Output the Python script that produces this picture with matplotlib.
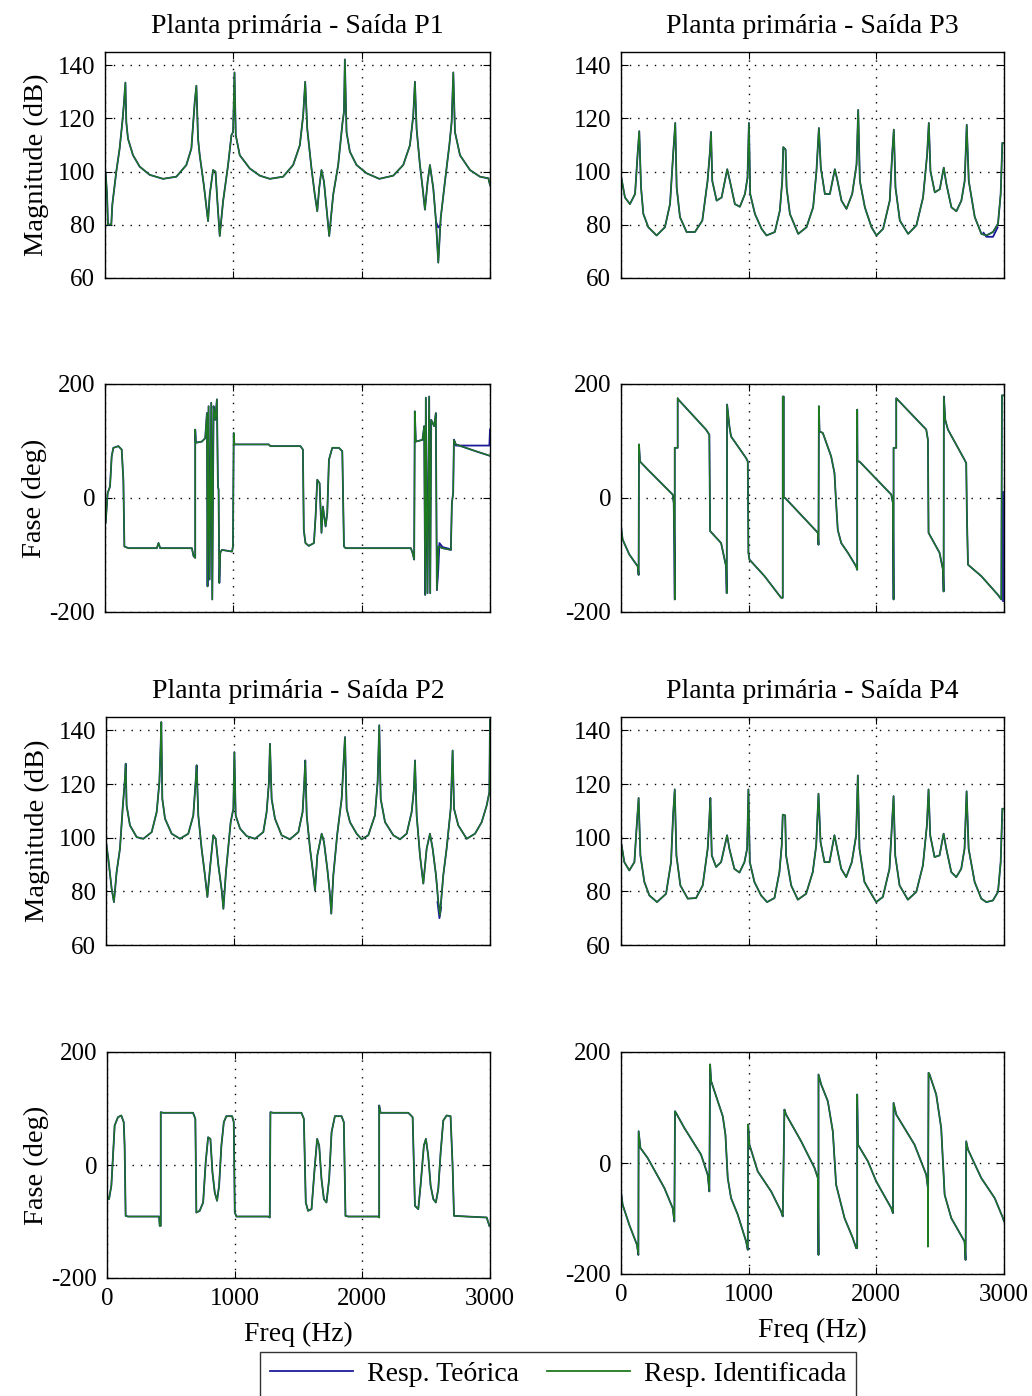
import numpy as np
import matplotlib.pyplot as plt
from matplotlib.lines import Line2D

plt.rcParams['font.family'] = ['Liberation Serif', 'DejaVu Serif']
plt.rcParams['axes.unicode_minus'] = False

# ---------------- data ----------------
freq_ticks = [0, 1000, 2000, 3000]
mag_ticks = [60, 80, 100, 120, 140]
fase_ticks = [-200, 0, 200]
titles = ['Planta primária - Saída P1', 'Planta primária - Saída P3',
          'Planta primária - Saída P2', 'Planta primária - Saída P4']
legend_labels = ['Resp. Teórica', 'Resp. Identificada']

# (freq Hz, magnitude dB) / (freq Hz, phase deg) of the identified response
p1_mag = [(0, 100), (5, 99.4), (16, 91.3), (23, 80.1), (49, 80.1), (57, 87.6), (88, 100), (114, 108.7),
          (135, 118.6), (146, 124.8), (159, 133.5), (166, 118.6), (179, 112.4), (218, 106.2), (270, 101.9),
          (348, 98.8), (452, 97.3), (556, 98.1), (634, 102.5), (673, 108.7), (699, 126.1), (712, 132.3),
          (725, 112.4), (738, 106.2), (770, 95.0), (803, 81.4), (816, 91.3), (842, 100.6), (861, 100.0),
          (874, 90.1), (894, 75.8), (920, 88.8), (959, 102.5), (985, 113.7), (998, 114.9), (1009, 137.3),
          (1019, 113.7), (1050, 106.2), (1128, 101.2), (1206, 98.5), (1284, 97.3), (1388, 98.1), (1466, 102.5),
          (1518, 109.9), (1544, 121.1), (1560, 133.8), (1576, 116.1), (1609, 101.2), (1635, 91.3), (1654, 85.1),
          (1669, 93.8), (1687, 100.6), (1706, 96.3), (1726, 86.3), (1747, 75.8), (1778, 91.3), (1817, 102.5),
          (1851, 118.6), (1862, 122.4), (1869, 142.2), (1882, 114.9), (1908, 107.5), (1960, 102.5),
          (2038, 99.4), (2137, 97.3), (2246, 98.5), (2324, 102.5), (2376, 109.9), (2402, 121.1), (2415, 133.8),
          (2428, 116.1), (2454, 102.5), (2475, 93.8), (2493, 85.7), (2514, 96.3), (2532, 102.5), (2558, 93.8),
          (2579, 81.4), (2597, 65.8), (2616, 82.6), (2649, 96.3), (2683, 109.9), (2701, 118.6), (2714, 137.3),
          (2727, 114.9), (2766, 106.2), (2844, 100.6), (2922, 98.1), (2987, 97.5), (3000, 95.0)]

p1_fase = [(0, -44), (5, -44), (21, 9), (39, 20), (52, 73), (65, 88), (104, 91), (130, 85), (143, 32),
           (151, -85), (182, -88), (404, -88), (417, -79), (430, -88), (677, -88), (690, -102), (703, -105),
           (703, 120), (708, 97), (755, 99), (781, 105), (794, 149), (799, -155), (807, 161), (815, -143),
           (828, 167), (836, -178), (846, 161), (859, 137), (872, 173), (880, 20), (885, 15), (891, -149),
           (898, -96), (911, -91), (990, -94), (997, -85), (1003, 114), (1008, 94), (1276, 94), (1289, 91),
           (1523, 91), (1542, 85), (1549, -56), (1562, -79), (1588, -84), (1628, -79), (1641, -32), (1654, 32),
           (1672, 26), (1680, -20), (1687, -61), (1698, -15), (1719, -50), (1732, -26), (1745, 67), (1771, 88),
           (1823, 88), (1849, 82), (1862, -85), (1875, -88), (2383, -88), (2396, -96), (2409, -108),
           (2414, 152), (2422, 99), (2474, 102), (2487, 126), (2495, -170), (2500, 176), (2513, -167),
           (2526, 178), (2534, -167), (2542, 137), (2565, 126), (2578, 149), (2586, -161), (2599, -85),
           (2630, -88), (2695, -91), (2703, -9), (2713, 9), (2719, 102), (2734, 94), (2812, 88), (2890, 82),
           (3000, 74)]

p3_mag = [(0, 98), (5, 97.1), (31, 90.3), (70, 87.8), (110, 91.6), (130, 106.5), (143, 115.2), (157, 94.0),
          (175, 84.1), (214, 79.1), (279, 76.0), (344, 79.1), (384, 87.8), (410, 107.7), (425, 118.3),
          (436, 94.0), (462, 82.9), (514, 77.3), (579, 77.3), (637, 81.6), (678, 96.5), (697, 107.7),
          (705, 114.9), (715, 96.5), (749, 89.1), (788, 90.3), (832, 100.9), (853, 96.5), (892, 87.8),
          (931, 86.8), (971, 91.6), (991, 97.8), (1002, 118.3), (1012, 91.6), (1049, 84.1), (1101, 78.5),
          (1140, 76.0), (1205, 77.3), (1244, 85.3), (1263, 96.5), (1271, 109.2), (1289, 108.3), (1297, 94.0),
          (1323, 84.1), (1388, 76.6), (1453, 79.1), (1505, 86.6), (1531, 100.2), (1550, 116.4), (1565, 101.5),
          (1597, 91.6), (1636, 91.6), (1675, 100.9), (1696, 96.5), (1727, 89.1), (1766, 86.0), (1811, 91.6),
          (1845, 102.7), (1858, 123.2), (1871, 96.5), (1910, 86.6), (1962, 79.1), (2001, 76.0), (2053, 78.5),
          (2105, 89.1), (2124, 106.5), (2137, 115.8), (2150, 94.0), (2184, 81.6), (2249, 76.6), (2314, 79.8),
          (2366, 90.3), (2398, 106.5), (2411, 118.3), (2424, 100.2), (2458, 92.2), (2497, 93.4), (2528, 101.5),
          (2549, 95.3), (2588, 86.6), (2627, 85.1), (2666, 89.1), (2692, 96.5), (2708, 117.6), (2724, 96.5),
          (2771, 82.9), (2823, 76.6), (2862, 76.0), (2914, 77.3), (2953, 80.4), (2974, 91.6), (2987, 110.8),
          (3000, 110.8)]

p3_fase = [(0, -50), (13, -73), (65, -99), (131, -120), (138, -135), (141, 94), (149, 64), (209, 50), (405, 6),
           (413, -9), (418, -85), (421, -178), (421, 88), (444, 88), (444, 175), (452, 172), (666, 120),
           (692, 111), (698, -58), (784, -79), (823, -120), (828, -167), (831, 164), (849, 126), (862, 108),
           (980, 70), (993, 64), (998, -96), (1006, -108), (1124, -137), (1254, -175), (1267, -175), (1267, 178),
           (1275, 178), (1275, 0), (1286, 0), (1542, -61), (1547, -82), (1550, 161), (1555, 117), (1581, 114),
           (1646, 73), (1672, 44), (1685, -9), (1698, -56), (1725, -79), (1777, -96), (1842, -120), (1850, -126),
           (1850, 155), (1852, 64), (1868, 64), (2117, 6), (2130, -9), (2135, -178), (2135, 88), (2156, 88),
           (2156, 175), (2169, 172), (2391, 120), (2404, 102), (2409, -61), (2495, -96), (2522, -126),
           (2527, -164), (2529, 178), (2540, 137), (2561, 120), (2691, 67), (2704, 61), (2710, -38), (2718, -117),
           (2822, -137), (2953, -170), (2979, -178), (2984, 180), (3000, 180)]

p2_mag = [(0, 98.4), (18, 92.2), (44, 81.0), (62, 76.0), (83, 87.2), (109, 95.9), (130, 110.8), (146, 120.7),
          (154, 127.6), (161, 112.0), (187, 104.6), (240, 100.2), (292, 99.6), (357, 102.1), (396, 109.6),
          (417, 120.7), (427, 134.4), (432, 143.1), (440, 114.5), (461, 107.1), (513, 101.5), (578, 99.6),
          (643, 101.5), (682, 108.3), (700, 120.7), (708, 127.0), (721, 108.3), (747, 95.9), (773, 86.0),
          (792, 77.9), (812, 88.4), (838, 100.9), (857, 99.6), (878, 89.7), (904, 80.4), (917, 73.5),
          (937, 87.2), (974, 105.8), (995, 110.8), (1003, 131.9), (1013, 108.3), (1047, 103.4), (1099, 100.6),
          (1164, 99.6), (1229, 102.1), (1255, 109.6), (1273, 120.7), (1281, 135.0), (1294, 114.5),
          (1320, 107.1), (1372, 100.9), (1437, 99.4), (1503, 102.1), (1536, 109.6), (1549, 120.7),
          (1557, 128.8), (1568, 108.3), (1594, 95.9), (1620, 86.0), (1633, 80.4), (1651, 93.4), (1685, 101.5),
          (1703, 98.4), (1729, 88.4), (1750, 78.5), (1760, 71.7), (1776, 86.0), (1807, 101.5), (1841, 114.5),
          (1867, 137.5), (1880, 110.8), (1906, 105.8), (1958, 101.5), (1997, 99.4), (2049, 100.9),
          (2101, 108.3), (2122, 120.7), (2135, 141.9), (2146, 114.5), (2180, 105.8), (2245, 100.9),
          (2297, 99.4), (2349, 101.5), (2388, 109.6), (2406, 118.3), (2414, 128.8), (2427, 108.3),
          (2453, 93.4), (2479, 82.9), (2505, 95.9), (2531, 101.5), (2552, 95.9), (2578, 86.0), (2596, 76.0),
          (2609, 71.1), (2635, 86.0), (2661, 95.9), (2693, 110.8), (2708, 132.5), (2719, 110.8), (2752, 104.6),
          (2818, 99.6), (2883, 101.5), (2935, 105.8), (2974, 112.0), (2995, 117.0), (3000, 144)]

p2_fase = [(0, -54.5), (16, -60.4), (34, -36.7), (47, 16.6), (60, 69.9), (86, 84.7), (112, 87.6), (131, 75.8),
           (138, 34.3), (146, -90), (165, -91.2), (408, -91.2), (413, -107.7), (421, -107.7), (421, 93.5),
           (439, 92.4), (674, 92.4), (692, 81.7), (700, -84.1), (726, -81.1), (753, -66.3), (773, 4.7),
           (792, 49.1), (810, 46.2), (826, -13), (844, -48.5), (862, -63.3), (878, -36.7), (896, 34.3),
           (915, 75.8), (935, 86.4), (980, 86.4), (993, 75.8), (1001, -84.1), (1014, -91.2), (1262, -91.2),
           (1275, -92.9), (1280, 93.5), (1301, 92.4), (1523, 92.4), (1542, 81.7), (1557, -66.3), (1575, -81.1),
           (1602, -78.1), (1628, -1.2), (1646, 46.2), (1662, 34.3), (1680, -24.9), (1699, -60.4), (1719, -66.3),
           (1740, -24.9), (1759, 58.0), (1785, 86.4), (1837, 86.4), (1855, 75.8), (1868, -90), (1889, -91.2),
           (2124, -91.2), (2132, -92.9), (2132, 105.4), (2143, 92.4), (2360, 92.4), (2394, 84.7), (2412, -72.2),
           (2438, -78.1), (2456, -36.7), (2482, 34.3), (2498, 46.2), (2516, 16.6), (2535, -36.7), (2556, -60.4),
           (2576, -66.3), (2595, -42), (2613, 21), (2634, 78.7), (2660, 87.6), (2691, 86.4), (2707, -1.2),
           (2718, -90), (2817, -91.2), (2974, -92.9), (2995, -107.7)]

p4_mag = [(0, 98), (5, 97.1), (26, 90.9), (65, 87.8), (105, 90.9), (125, 105.8), (138, 114.8), (152, 93.4),
          (183, 83.5), (222, 78.5), (282, 76.0), (353, 79.1), (392, 90.9), (408, 108.3), (421, 118.0),
          (434, 93.4), (465, 82.2), (523, 77.3), (588, 77.5), (640, 82.2), (679, 95.9), (692, 107.1),
          (700, 114.8), (711, 93.4), (745, 89.1), (784, 90.9), (831, 100.9), (849, 95.9), (888, 88.4),
          (928, 87.0), (967, 90.9), (988, 95.9), (998, 118.0), (1009, 90.9), (1045, 83.5), (1097, 78.5),
          (1144, 76.0), (1202, 77.5), (1241, 87.2), (1259, 97.1), (1267, 108.6), (1286, 108.3), (1293, 93.4),
          (1333, 82.2), (1385, 76.9), (1450, 79.1), (1502, 87.2), (1529, 97.1), (1547, 116.4), (1563, 98.4),
          (1594, 90.9), (1633, 90.9), (1672, 100.9), (1693, 95.9), (1725, 88.4), (1764, 85.3), (1808, 90.9),
          (1842, 100.9), (1855, 123.2), (1868, 95.9), (1907, 83.5), (1960, 79.1), (1999, 76.0), (2051, 77.9),
          (2103, 88.4), (2122, 104.6), (2135, 115.5), (2148, 93.4), (2182, 82.2), (2247, 76.9), (2313, 79.8),
          (2365, 89.7), (2396, 104.6), (2409, 118.0), (2422, 100.9), (2456, 92.8), (2495, 93.4), (2527, 101.5),
          (2548, 95.9), (2587, 87.2), (2626, 85.3), (2665, 88.4), (2691, 95.9), (2707, 117.3), (2723, 95.9),
          (2770, 83.5), (2822, 77.3), (2861, 76.0), (2913, 76.6), (2953, 79.8), (2974, 90.9), (2987, 110.8),
          (3000, 110.8)]

p4_fase = [(0, -51.2), (13, -75.3), (65, -111.4), (125, -147.3), (136, -165.6), (138, 57.2), (152, 27.1),
           (209, 9.0), (340, -45.2), (405, -81.3), (418, -105.4), (423, 93.3), (431, 90.3), (496, 63.2),
           (627, 15.1), (679, -21.1), (692, -51.2), (698, 177.6), (706, 147.5), (758, 111.4), (797, 84.3),
           (818, 51.2), (836, -27.1), (862, -63.2), (915, -93.3), (980, -141.5), (993, -156.5), (996, 69.2),
           (1006, 33.1), (1071, -15.1), (1176, -51.2), (1254, -87.3), (1267, -96.3), (1280, 96.3), (1293, 87.3),
           (1411, 39.1), (1516, -9.0), (1542, -27.1), (1547, -165.6), (1547, 159.5), (1568, 141.5),
           (1620, 111.4), (1659, 57.2), (1685, -39.1), (1751, -99.3), (1816, -135.5), (1842, -153.5),
           (1850, -153.5), (1850, 123.4), (1856, 33.1), (1934, 3.0), (1999, -33.1), (2117, -81.3),
           (2130, -90.3), (2135, 108.4), (2156, 87.3), (2299, 33.1), (2391, -21.1), (2404, -45.2),
           (2404, -150.5), (2409, 162.5), (2417, 159.5), (2469, 123.4), (2508, 63.2), (2535, -57),
           (2587, -99.3), (2691, -141.5), (2699, -174.6), (2704, 39.1), (2718, 24.1), (2822, -27.1),
           (2927, -63.2), (2992, -99.3), (3000, -105)]

# places where the theoretical (blue) curve departs from the identified one
p1_mag_teo = [[(2580, 81), (2597, 79), (2616, 80)]]
p1_fase_teo = [[(2586, -161), (2597, -125), (2606, -79), (2630, -86), (2695, -90)],
               [(2719, 102), (2734, 92), (2900, 92), (2995, 92), (3000, 120)]]
p3_mag_teo = [[(2840, 77), (2862, 75.5), (2914, 75.5), (2950, 79)]]
p3_fase_teo = [[(2995, -180), (2995, 10)]]
p2_mag_teo = [[(2590, 76), (2605, 70), (2618, 74)]]
p2_fase_teo = []
p4_mag_teo = []
p4_fase_teo = []

azul = '#1c1c9a'
verde = '#1f7a1f'


def draw_panel(ax, ident, teo_extra, ylim, yticks):
    f, v = zip(*ident)
    ax.plot(f, v, color=azul, lw=1.3)          # theoretical response
    for seg in teo_extra:
        fe, ve = zip(*seg)
        ax.plot(fe, ve, color=azul, lw=1.3)
    ax.plot(f, v, color=verde, lw=1.0)         # identified response
    ax.set_xlim(0, 3000)
    ax.set_ylim(*ylim)
    ax.set_xticks(freq_ticks)
    ax.set_yticks(yticks)
    ax.grid(True, color='black', linestyle=(0, (1, 5)), linewidth=1.0)
    ax.tick_params(direction='in', top=True, right=True, length=5, labelsize=18, pad=7)
    for s in ax.spines.values():
        s.set_linewidth(1.0)


fig = plt.figure(figsize=(10.32, 13.96), dpi=100)
W, H = 1032.0, 1396.0


def add_axes(left, top, right, bottom):
    return fig.add_axes([left / W, 1 - bottom / H, (right - left) / W, (bottom - top) / H])


panels = [
    # left column: P1 then P2
    (add_axes(105, 52, 490, 278), p1_mag, p1_mag_teo, 'mag', titles[0], True, False),
    (add_axes(105, 384, 490, 612), p1_fase, p1_fase_teo, 'fase', None, True, False),
    (add_axes(106, 717, 490, 945), p2_mag, p2_mag_teo, 'mag', titles[2], True, False),
    (add_axes(107, 1052, 490, 1278), p2_fase, p2_fase_teo, 'fase', None, True, True),
    # right column: P3 then P4
    (add_axes(621, 52, 1004, 278), p3_mag, p3_mag_teo, 'mag', titles[1], False, False),
    (add_axes(621, 384, 1004, 612), p3_fase, p3_fase_teo, 'fase', None, False, False),
    (add_axes(621, 717, 1004, 945), p4_mag, p4_mag_teo, 'mag', titles[3], False, False),
    (add_axes(621, 1052, 1004, 1274), p4_fase, p4_fase_teo, 'fase', None, False, True),
]

for ax, ident, teo, kind, title, left_col, bottom_row in panels:
    if kind == 'mag':
        draw_panel(ax, ident, teo, (60, 145), mag_ticks)
        if left_col:
            ax.set_ylabel('Magnitude (dB)', fontsize=20.5, labelpad=6)
    else:
        draw_panel(ax, ident, teo, (-200, 200), fase_ticks)
        if left_col:
            ax.set_ylabel('Fase (deg)', fontsize=20.5, labelpad=2)
    if title:
        ax.set_title(title, fontsize=20, pad=14)
    if bottom_row:
        ax.set_xlabel('Freq (Hz)', fontsize=20, labelpad=9)
    else:
        ax.set_xticklabels([])

handles = [Line2D([], [], color=azul, lw=1.3), Line2D([], [], color=verde, lw=1.3)]
leg = fig.legend(handles, legend_labels, loc='upper center', bbox_to_anchor=(0.541, 1 - 1352 / H),
                 borderaxespad=0, ncol=2, fontsize=20, frameon=True, fancybox=False, handlelength=3.0,
                 handletextpad=0.5, columnspacing=1.0, borderpad=0.35, edgecolor='black')
leg.get_frame().set_linewidth(1.0)

plt.savefig('out.png', dpi=100)
